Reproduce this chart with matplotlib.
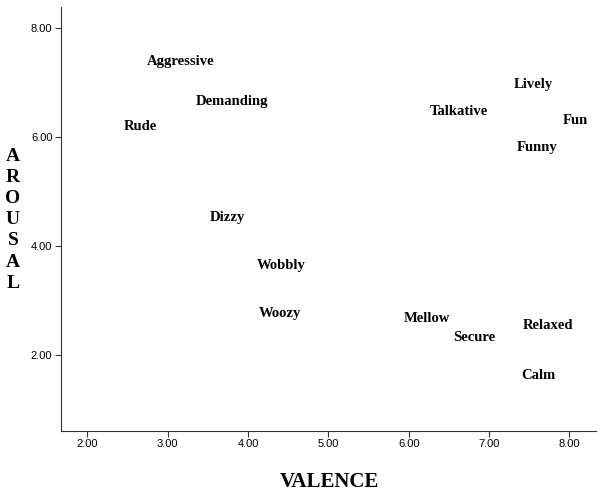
import matplotlib
matplotlib.use("Agg")
import matplotlib.pyplot as plt

# word ratings (valence, arousal)
words = ["Aggressive", "Demanding", "Rude", "Dizzy", "Talkative", "Lively",
         "Fun", "Funny", "Wobbly", "Woozy", "Mellow", "Secure", "Relaxed", "Calm"]
valence = [3.16, 3.80, 2.66, 3.74, 6.62, 7.55, 8.07, 7.60, 4.41, 4.40, 6.23, 6.81, 7.73, 7.61]
arousal = [7.39, 6.65, 6.20, 4.53, 6.48, 6.97, 6.31, 5.81, 3.65, 2.77, 2.67, 2.32, 2.54, 1.64]

xticks = [2, 3, 4, 5, 6, 7, 8]
yticks = [2, 4, 6, 8]

serif = ["Liberation Serif", "DejaVu Serif"]
sans = ["Liberation Sans", "DejaVu Sans"]

fig = plt.figure(figsize=(6.03, 4.95), dpi=100)
ax = fig.add_axes([0.1007, 0.1293, 0.8877, 0.8566])

# invisible points, labels only (SPSS style)
ax.scatter(valence, arousal, s=0, alpha=0)
for w, x, y in zip(words, valence, arousal):
    ax.text(x, y, w, ha="center", va="center", fontsize=10.5,
            fontweight="bold", family=serif, color="black")

ax.set_xlim(1.67, 8.33)
ax.set_ylim(0.614, 8.39)
ax.set_xticks(xticks)
ax.set_yticks(yticks)
ax.set_xticklabels(["%.2f" % t for t in xticks], family=sans, fontsize=8)
ax.set_yticklabels(["%.2f" % t for t in yticks], family=sans, fontsize=8)
ax.tick_params(direction="out", length=4, width=0.8, color="#333333", pad=2)

for s in ["top", "right"]:
    ax.spines[s].set_visible(False)
for s in ["left", "bottom"]:
    ax.spines[s].set_linewidth(0.8)
    ax.spines[s].set_color("#333333")

# axis titles
fig.text(0.546, 0.027, "VALENCE", ha="center", va="center", fontsize=15,
         fontweight="bold", family=serif)
fig.text(0.0216, 0.556, "\n".join("AROUSAL"), ha="center", va="center",
         fontsize=14, fontweight="bold", family=serif, linespacing=1.32)

fig.savefig("out.png", dpi=100)
